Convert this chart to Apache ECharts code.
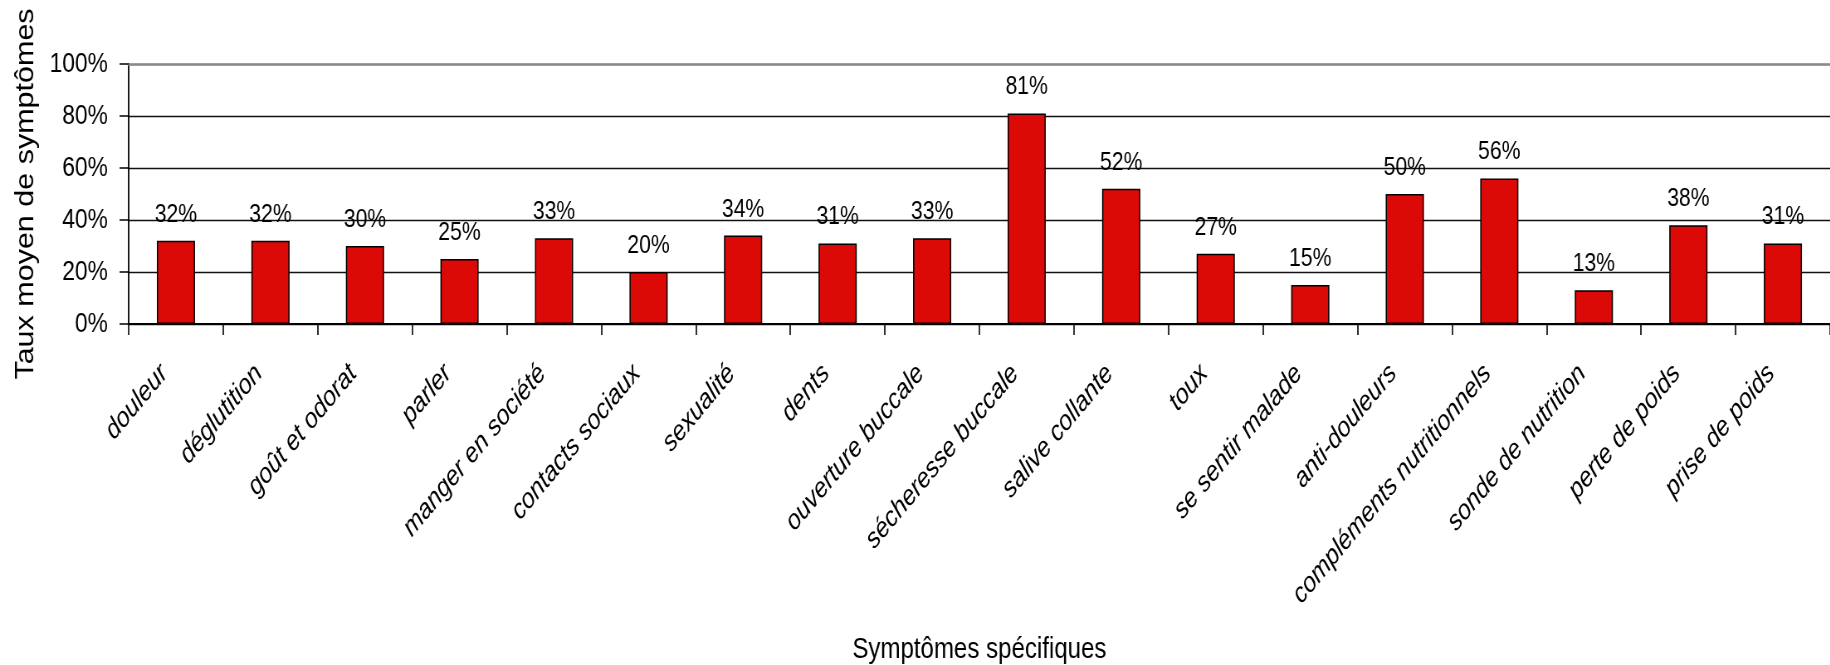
<!DOCTYPE html>
<html lang="fr">
<head>
<meta charset="utf-8">
<title>Taux moyen de symptômes</title>
<script src="https://cdn.jsdelivr.net/npm/echarts@6/dist/echarts.min.js"></script>
<style>
  html, body { margin: 0; padding: 0; background: #fff; overflow: hidden; }
  #frame { width: 1830px; height: 665px; overflow: hidden; position: relative; }
  /* the chart is laid out wide, then narrowed so the lettering is condensed */
  #chart { width: 2205px; height: 665px; transform: scaleX(0.83); transform-origin: 0 0; }
</style>
</head>
<body>
<div id="frame"><div id="chart"></div></div>
<script>
// Symptom categories along the horizontal axis
const categories = [
  'douleur', 'déglutition', 'goût et odorat', 'parler', 'manger en société',
  'contacts sociaux', 'sexualité', 'dents', 'ouverture buccale', 'sécheresse buccale',
  'salive collante', 'toux', 'se sentir malade', 'anti-douleurs',
  'compléments nutritionnels', 'sonde de nutrition', 'perte de poids', 'prise de poids'
];

// Mean symptom rate per category, in percent
const rates = [32, 32, 30, 25, 33, 20, 34, 31, 33, 81, 52, 27, 15, 50, 56, 13, 38, 31];

// Vertical scale: 0% to 100% in steps of 20%
const yMin = 0;
const yMax = 100;
const yStep = 20;

const FONT = '"Liberation Sans", Arial, Helvetica, sans-serif';

const chart = echarts.init(document.getElementById('chart'), null, { renderer: 'canvas' });

chart.setOption({
  animation: false,
  backgroundColor: '#ffffff',
  textStyle: { fontFamily: FONT, color: '#000' },
  grid: { left: 155, top: 64, width: 2056, height: 260, containLabel: false },
  xAxis: [
    {
      type: 'category',
      data: categories,
      position: 'bottom',
      axisLine: { show: true, lineStyle: { color: '#000', width: 2 } },
      axisTick: { show: true, length: 11, lineStyle: { color: '#000', width: 1.6 } },
      axisLabel: {
        interval: 0,
        rotate: 45,
        margin: 31,
        padding: [0, 20, 0, 0],
        fontFamily: FONT,
        fontStyle: 'italic',
        fontSize: 28,
        color: '#000'
      },
      name: 'Symptômes spécifiques',
      nameLocation: 'middle',
      nameGap: 311,
      nameTextStyle: { fontFamily: FONT, fontSize: 29, color: '#000' }
    },
    {
      // top border of the plot area
      type: 'category',
      data: categories,
      position: 'top',
      axisLine: { show: true, lineStyle: { color: '#8a8a8a', width: 2.5 } },
      axisTick: { show: false },
      axisLabel: { show: false }
    }
  ],
  yAxis: {
    type: 'value',
    min: yMin,
    max: yMax,
    interval: yStep,
    axisLine: { show: true, lineStyle: { color: '#000', width: 1.8 } },
    axisTick: { show: true, length: 11, lineStyle: { color: '#000', width: 1.5 } },
    axisLabel: {
      formatter: '{value}%',
      margin: 25,
      fontFamily: FONT,
      fontSize: 27.5,
      color: '#000'
    },
    splitLine: {
      show: true,
      lineStyle: { color: ['#111', '#111', '#111', '#111', '#111', '#8a8a8a'], width: 1.3 }
    },
    name: 'Taux moyen de symptômes',
    nameLocation: 'middle',
    nameGap: 108,
    nameTextStyle: { fontFamily: FONT, fontSize: 30.5, color: '#000' }
  },
  series: [
    {
      type: 'bar',
      xAxisIndex: 0,
      data: rates,
      barWidth: 46,
      itemStyle: { color: '#dc0a07', borderColor: '#000', borderWidth: 1.5 },
      label: {
        show: true,
        position: 'top',
        distance: 13,
        formatter: '{c}%',
        fontFamily: FONT,
        fontSize: 25.5,
        color: '#000'
      }
    }
  ]
});
</script>
</body>
</html>
